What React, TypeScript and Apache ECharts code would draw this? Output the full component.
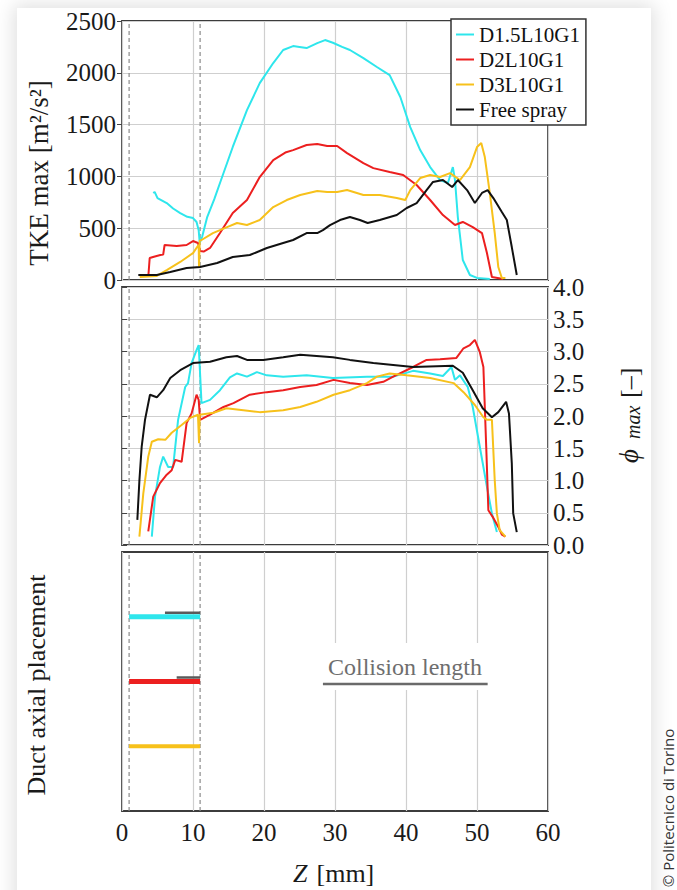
import React, { useEffect, useRef } from "react";
import * as echarts from "echarts";

const seriesNames = ["D1.5L10G1", "D2L10G1", "D3L10G1", "Free spray"];
const seriesColors = ["#2ee6ec", "#ec1f1f", "#f7c11b", "#111111"];

const zRange = [0, 60];
const zStep = 10;
const tkeRange = [0, 2500];
const tkeStep = 500;
const phiRange = [0, 4];
const phiStep = 0.5;
const ductRange = [0, 4];

const tkeD15 = [
  [4.4, 840], [4.6, 850], [5.0, 790], [6.3, 743], [7.2, 690], [8.2, 646], [9.2, 610], [10, 598], [10.5, 560],
  [10.8, 480], [10.95, 357], [11.3, 420], [12, 608], [13, 780], [13.8, 936], [15.6, 1284], [17.6, 1640],
  [19.4, 1900], [21.3, 2094], [22.7, 2220], [24.1, 2258], [25, 2250], [26, 2239], [27.5, 2287], [28.6, 2316],
  [29.7, 2290], [31, 2250], [32.1, 2220], [34, 2142], [35.9, 2056], [37.7, 1978], [39.2, 1766], [40.6, 1476],
  [42, 1254], [43.4, 1090], [44.8, 965], [45.9, 936], [46.6, 1090], [46.9, 965], [47.3, 608], [48, 193],
  [49, 48], [50, 20], [51.8, 10],
];
const tkeD2 = [
  [3.7, 29], [3.9, 212], [4.5, 225], [5.4, 241], [5.8, 245], [6.0, 338], [7.7, 328], [9.1, 338], [10, 376],
  [10.7, 357], [11.0, 280], [11.5, 275], [12.4, 309], [13.8, 453], [15.6, 646], [17.6, 772], [19.4, 994],
  [21.3, 1158], [23, 1230], [24.1, 1254], [26, 1303], [27.5, 1312], [28.9, 1293], [30.3, 1293], [31.7, 1225],
  [34, 1129], [35.4, 1080], [37.7, 1042], [39.6, 1013], [41.5, 917], [43.4, 772], [45.2, 627], [46.9, 531],
  [48, 560], [49.4, 511], [50.7, 453], [51.4, 260], [52.1, 29], [53.7, 10],
];
const tkeD3 = [
  [2.5, 29], [4.9, 39], [6.3, 96], [8.2, 174], [10, 260], [10.8, 340], [10.85, 125], [10.95, 380], [11.2, 386],
  [12.8, 453], [14.8, 511], [16.2, 550], [17.6, 531], [19.4, 579], [21.3, 704], [23.2, 772], [25.1, 820],
  [27.5, 859], [28.9, 849], [30.3, 849], [31.7, 868], [34, 820], [36.3, 820], [38.7, 791], [39.9, 772],
  [40.6, 868], [42, 984], [43.4, 1013], [44.8, 994], [46.2, 1032], [47.6, 965], [49, 1090], [50, 1283],
  [50.6, 1322], [51.1, 1187], [51.8, 840], [52.5, 453], [53, 125], [53.5, 19], [54, 19],
];
const tkeFree = [
  [2.3, 48], [4.9, 48], [6.8, 77], [9.1, 116], [11, 125], [13.4, 164], [15.6, 222], [18, 241], [20.4, 309],
  [22.7, 357], [24.1, 386], [26, 453], [27.5, 453], [28.3, 482], [29.3, 530], [30.7, 579], [32.1, 608],
  [33.5, 579], [34.6, 550], [36.3, 579], [38.7, 627], [40.1, 695], [41.5, 743], [42.9, 868], [43.8, 946],
  [45.2, 965], [46.5, 897], [47.3, 965], [48.6, 868], [49.7, 743], [50.7, 840], [51.5, 868], [52.3, 791],
  [53.5, 656], [54.2, 579], [54.9, 318], [55.6, 48],
];

const phiD15 = [
  [4.2, 0.13], [4.65, 0.75], [5.35, 1.21], [5.8, 1.37], [6.5, 1.21], [7.2, 1.21], [7.9, 1.94], [8.9, 2.45],
  [9.3, 2.51], [9.8, 2.82], [10.5, 3.02], [10.8, 3.1], [11.2, 2.2], [12.4, 2.25], [13.8, 2.4], [15.2, 2.6],
  [16.2, 2.66], [17.6, 2.61], [19, 2.68], [20.4, 2.63], [22.7, 2.61], [26, 2.63], [29.7, 2.59], [34.5, 2.61],
  [38.2, 2.61], [41, 2.7], [43.4, 2.66], [45.2, 2.62], [46.4, 2.76], [46.9, 2.56], [47.6, 2.63], [48.7, 2.45],
  [49.4, 2.14], [50.4, 1.52], [51.4, 0.9], [52.1, 0.49], [52.8, 0.2],
];
const phiD2 = [
  [3.7, 0.21], [4.4, 0.75], [5.35, 0.96], [6.3, 1.09], [7, 1.16], [7.5, 1.32], [8.4, 1.29], [9.1, 1.89],
  [9.8, 2.04], [10.5, 2.33], [10.8, 2.25], [11, 1.94], [12.4, 2.02], [14.3, 2.14], [15.7, 2.2], [18, 2.33],
  [20.4, 2.37], [22.7, 2.4], [25.1, 2.45], [27.4, 2.48], [29.8, 2.56], [32.1, 2.51], [34.5, 2.48], [36.8, 2.53],
  [38.2, 2.61], [41, 2.76], [42.9, 2.87], [44.8, 2.88], [47.1, 2.9], [48.1, 3.05], [49, 3.1], [49.7, 3.18],
  [50.4, 2.99], [50.9, 2.76], [51.3, 1.52], [51.6, 0.54], [52.3, 0.42], [53, 0.28], [53.5, 0.16], [54, 0.13],
];
const phiD3 = [
  [2.45, 0.13], [3.0, 0.8], [3.7, 1.37], [4.2, 1.6], [5.1, 1.64], [6.1, 1.63], [7, 1.74], [8.4, 1.86],
  [9.6, 1.97], [10.7, 2.02], [10.85, 1.58], [10.95, 2.02], [12.9, 2.05], [14.7, 2.12], [17.1, 2.09],
  [19.4, 2.06], [22.7, 2.09], [25.1, 2.14], [27.4, 2.22], [29.8, 2.33], [32.1, 2.4], [34.5, 2.51], [35.9, 2.61],
  [37.7, 2.66], [40.1, 2.63], [43.4, 2.59], [46.7, 2.51], [48.1, 2.37], [49.7, 2.17], [50.9, 1.98],
  [51.4, 1.94], [52.1, 1.94], [52.5, 1.0], [52.8, 0.49], [53.2, 0.23], [54, 0.13],
];
const phiFree = [
  [2.16, 0.39], [2.45, 1.0], [2.77, 1.52], [3.24, 1.94], [3.94, 2.33], [4.9, 2.29], [5.8, 2.4], [6.8, 2.59],
  [8.2, 2.71], [10, 2.82], [12.4, 2.84], [14.7, 2.91], [16.2, 2.93], [17.6, 2.87], [19.9, 2.87], [22.7, 2.91],
  [25.1, 2.95], [29.7, 2.91], [32.1, 2.87], [35.4, 2.82], [38.2, 2.79], [41, 2.76], [46.6, 2.78], [48, 2.67],
  [49.4, 2.4], [50.8, 2.12], [52.1, 1.98], [53, 2.06], [54.1, 2.22], [54.5, 2.04], [54.9, 1.27], [55.1, 0.49],
  [55.6, 0.2],
];

const ductLevels = [3, 2, 1];
const ductSpan = [1, 11];
const collisionBars = [
  [[6.05, 3.06], [11, 3.06]],
  [[7.7, 2.06], [11, 2.06]],
];
const collisionLegendLine = [[28.3, 1.96], [51.5, 1.96]];
const guideZ = [1, 11];

const serif = "Liberation Serif, Times New Roman, serif";

function buildOption() {
  const grids = [
    { left: 122, top: 21, width: 426, height: 259 },
    { left: 122, top: 287, width: 426, height: 258 },
    { left: 122, top: 552, width: 426, height: 259 },
  ].map((g) => ({ ...g, show: true, borderColor: "#3c3c3c", borderWidth: 1.8, backgroundColor: "#ffffff" }));

  const xAxes = [0, 1, 2].map((i) => ({
    type: "value",
    gridIndex: i,
    min: zRange[0],
    max: zRange[1],
    interval: zStep,
    axisLine: { show: false },
    axisTick: { show: false },
    axisLabel: { show: i === 2, fontFamily: serif, fontSize: 25, color: "#1a1a1a", margin: 9, formatter: (v: number) => String(v) },
    splitLine: { show: true, lineStyle: { color: "#cfcfcf", width: 1.2 } },
  }));

  const yAxes = [
    {
      type: "value", gridIndex: 0, min: tkeRange[0], max: tkeRange[1], interval: tkeStep,
      axisLine: { show: false },
      axisTick: { show: true, length: 5, lineStyle: { color: "#444" } },
      axisLabel: { fontFamily: serif, fontSize: 25, color: "#1a1a1a", margin: 6, formatter: (v: number) => String(v) },
      splitLine: { show: true, lineStyle: { color: "#cfcfcf", width: 1.2 } },
    },
    {
      type: "value", gridIndex: 1, position: "right", min: phiRange[0], max: phiRange[1], interval: phiStep,
      axisLine: { show: false },
      axisTick: { show: true, length: 5, lineStyle: { color: "#444" } },
      axisLabel: { fontFamily: serif, fontSize: 25, color: "#1a1a1a", margin: 5, formatter: (v: number) => v.toFixed(1) },
      splitLine: { show: true, lineStyle: { color: "#cfcfcf", width: 1.2 } },
    },
    {
      type: "value", gridIndex: 2, min: ductRange[0], max: ductRange[1],
      axisLine: { show: false }, axisTick: { show: false }, axisLabel: { show: false }, splitLine: { show: false },
    },
  ];

  const series: any[] = [];
  const ranges = [tkeRange, phiRange, ductRange];
  [0, 1, 2].forEach((gi) =>
    guideZ.forEach((z) =>
      series.push({
        type: "line", data: [[z, ranges[gi][0]], [z, ranges[gi][1]]], xAxisIndex: gi, yAxisIndex: gi,
        symbol: "none", silent: true, z: 1,
        lineStyle: { type: [4, 3], color: "#8a8a8a", width: 1.2 },
      })
    )
  );

  const line = (name: string, data: number[][], color: string, idx: number) => ({
    type: "line", name, data, xAxisIndex: idx, yAxisIndex: idx, symbol: "none", showSymbol: false,
    lineStyle: { color, width: 2 }, itemStyle: { color }, z: 3, silent: true,
  });
  const tkeSets = [tkeD15, tkeD2, tkeD3, tkeFree];
  const phiSets = [phiD15, phiD2, phiD3, phiFree];
  tkeSets.forEach((d, i) => series.push(line(seriesNames[i], d, seriesColors[i], 0)));
  phiSets.forEach((d, i) => series.push(line(seriesNames[i], d, seriesColors[i], 1)));

  ductLevels.forEach((lv, i) =>
    series.push({
      type: "line", data: [[ductSpan[0], lv], [ductSpan[1], lv]], xAxisIndex: 2, yAxisIndex: 2,
      symbol: "none", silent: true, z: 3, lineStyle: { color: seriesColors[i], width: i === 2 ? 4 : 5 },
    })
  );
  collisionBars.forEach((d) =>
    series.push({
      type: "line", data: d, xAxisIndex: 2, yAxisIndex: 2, symbol: "none", silent: true, z: 4,
      lineStyle: { color: "#5a5a5a", width: 2.5 },
    })
  );
  series.push({
    type: "line", data: collisionLegendLine, xAxisIndex: 2, yAxisIndex: 2, symbol: "none", silent: true, z: 4,
    lineStyle: { color: "#6a6a6a", width: 2.5 },
  });

  const txt = (text: string, x: number, y: number, size: number, extra: any = {}) => ({
    type: "text", x, y, rotation: extra.rotation || 0, z: 10, silent: true,
    style: {
      text, fontFamily: extra.fontFamily || serif, fontSize: size, fontStyle: extra.fontStyle || "normal",
      fill: extra.fill || "#1a1a1a", align: extra.align || "center", textAlign: extra.align || "center",
      verticalAlign: "middle", textVerticalAlign: "middle",
    },
  });

  const graphic = [
    { type: "rect", z: 1, silent: true, shape: { x: 318, y: 643, width: 174, height: 47 }, style: { fill: "#ffffff" } },
    txt("TKE max [m²/s²]", 39, 173, 27, { rotation: Math.PI / 2 }),
    txt("Duct axial placement", 36, 685, 26, { rotation: Math.PI / 2 }),
    txt("Collision length", 405, 667, 24, { fill: "#6e6e6e" }),
    txt("Z", 293, 873, 26, { fontStyle: "italic", align: "left" }),
    txt(" [mm]", 310, 873, 26, { align: "left" }),
    txt("ϕ", 629, 463, 27, { rotation: Math.PI / 2, fontStyle: "italic", align: "left" }),
    txt("max", 633, 439, 20, { rotation: Math.PI / 2, fontStyle: "italic", align: "left" }),
    txt("[–]", 629, 398, 26, { rotation: Math.PI / 2, align: "left" }),
    txt("© Politecnico di Torino", 668, 808, 15, {
      rotation: Math.PI / 2, fontFamily: "Open Sans, Noto Sans, sans-serif", fill: "#333",
    }),
  ];

  return {
    animation: false,
    textStyle: { fontFamily: serif },
    grid: grids,
    xAxis: xAxes,
    yAxis: yAxes,
    series,
    graphic,
    legend: {
      data: seriesNames,
      left: 451,
      top: 19,
      orient: "vertical",
      backgroundColor: "#ffffff",
      borderColor: "#333",
      borderWidth: 1.5,
      borderRadius: 0,
      padding: [5, 6, 5, 5],
      itemGap: 4,
      itemWidth: 18,
      itemHeight: 2,
      icon: "rect",
      selectedMode: false,
      textStyle: { fontFamily: serif, fontSize: 21, color: "#111", lineHeight: 21 },
      z: 20,
    },
  };
}

export default function App() {
  const ref = useRef<HTMLDivElement>(null);
  useEffect(() => {
    if (!ref.current) return;
    const chart = echarts.init(ref.current, null, { renderer: "svg" });
    chart.setOption(buildOption() as any);
    return () => chart.dispose();
  }, []);
  return (
    <div style={{ position: "fixed", left: 0, top: 0, width: 677, height: 890, background: "#ffffff", overflow: "hidden" }}>
      <div
        style={{
          position: "absolute", left: 17, top: 8, width: 634, height: 920, background: "#ffffff",
          boxShadow: "0 0 18px 3px rgba(0,0,0,0.13)",
        }}
      />
      <div ref={ref} style={{ position: "absolute", left: 0, top: 0, width: 677, height: 890 }} />
    </div>
  );
}
